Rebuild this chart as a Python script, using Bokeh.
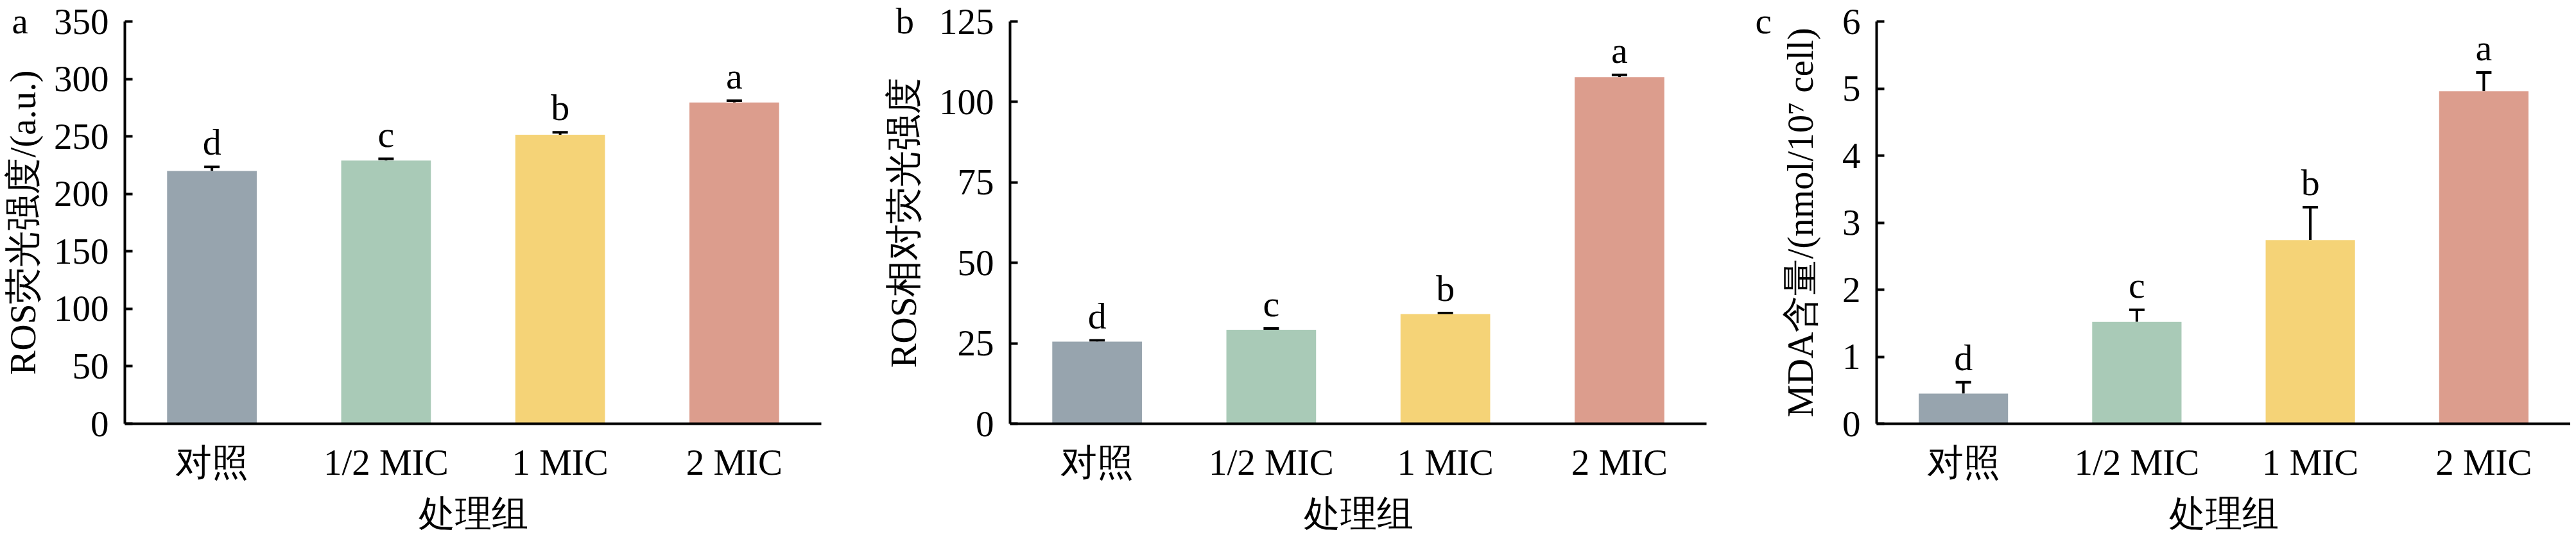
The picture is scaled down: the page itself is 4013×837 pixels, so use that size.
from bokeh.plotting import figure
from bokeh.layouts import row
from bokeh.models import (ColumnDataSource, Whisker, TeeHead, FixedTicker,
                          LabelSet, FactorRange, Range1d)
from bokeh.embed import file_html
from bokeh.resources import INLINE

# ---------------- data ----------------
groups = ["对照", "1/2 MIC", "1 MIC", "2 MIC"]
bar_colors = ["#97A4AE", "#A9CAB7", "#F5D377", "#DC9D8D"]

ros_mean = [220.0, 229.0, 251.5, 279.5]
ros_err = [3.5, 1.5, 2.0, 1.5]
ros_sig = ["d", "c", "b", "a"]

rel_mean = [25.5, 29.2, 34.1, 107.7]
rel_err = [0.4, 0.4, 0.3, 0.7]
rel_sig = ["d", "c", "b", "a"]

mda_mean = [0.45, 1.52, 2.74, 4.96]
mda_err = [0.17, 0.18, 0.49, 0.28]
mda_sig = ["d", "c", "b", "a"]

ros_ticks = [0, 50, 100, 150, 200, 250, 300, 350]
rel_ticks = [0, 25, 50, 75, 100, 125]
mda_ticks = [0, 1, 2, 3, 4, 5, 6]

FONT = "Liberation Serif"
FS = "57px"
TOP = 33
FRAME_H = 627
BOTTOM = 169


def make_panel(tag, ylabel, means, errs, sig, ticks, border_left, frame_w,
               border_right, ylabel_standoff, tag_x):
    tops = [m + e for m, e in zip(means, errs)]
    src = ColumnDataSource(dict(grp=groups, mean=means, top=tops, sig=sig,
                                color=bar_colors))
    p = figure(x_range=FactorRange(*groups, range_padding=0),
               y_range=Range1d(ticks[0], ticks[-1]),
               frame_width=frame_w, frame_height=FRAME_H,
               min_border_left=border_left, min_border_right=border_right,
               min_border_top=TOP, min_border_bottom=BOTTOM,
               output_backend="svg", toolbar_location=None,
               outline_line_color=None, background_fill_color="white",
               border_fill_color="white")
    p.xgrid.visible = False
    p.ygrid.visible = False

    # panel letter as the plot title, pulled up/left so it does not push the frame
    p.title.text = tag
    p.title.align = "left"
    p.title.vertical_align = "top"
    p.title.offset = tag_x
    p.title.standoff = -64
    p.title.text_font = FONT
    p.title.text_font_size = FS
    p.title.text_font_style = "normal"
    p.title.text_color = "black"

    p.vbar(x="grp", top="mean", bottom=0, width=0.515, source=src,
           fill_color="color", line_color=None)

    w = Whisker(base="grp", upper="top", lower="mean", source=src,
                line_color="black", line_width=4,
                upper_head=TeeHead(size=24, line_color="black", line_width=4),
                lower_head=None)
    p.add_layout(w)

    p.add_layout(LabelSet(x="grp", y="top", text="sig", source=src,
                          text_font=FONT, text_font_size="58px",
                          text_align="center", text_baseline="alphabetic",
                          y_offset=19, text_color="black"))

    # y axis
    ya = p.yaxis[0]
    ya.ticker = FixedTicker(ticks=ticks)
    ya.minor_tick_line_color = None
    ya.major_tick_in = 12
    ya.major_tick_out = 0
    ya.major_tick_line_width = 4
    ya.major_tick_line_color = "black"
    ya.axis_line_width = 4
    ya.axis_line_color = "black"
    ya.major_label_text_font = FONT
    ya.major_label_text_font_size = FS
    ya.major_label_text_color = "black"
    ya.major_label_standoff = 25
    ya.axis_label = ylabel
    ya.axis_label_text_font = FONT
    ya.axis_label_text_font_size = FS
    ya.axis_label_text_font_style = "normal"
    ya.axis_label_text_color = "black"
    ya.axis_label_standoff = ylabel_standoff

    # x axis
    xa = p.xaxis[0]
    xa.major_tick_in = 0
    xa.major_tick_out = 0
    xa.major_tick_line_color = None
    xa.minor_tick_line_color = None
    xa.axis_line_width = 4
    xa.axis_line_color = "black"
    xa.major_label_text_font = FONT
    xa.major_label_text_font_size = FS
    xa.major_label_text_color = "black"
    xa.major_label_standoff = 28
    xa.axis_label = "处理组"
    xa.axis_label_text_font = FONT
    xa.axis_label_text_font_size = FS
    xa.axis_label_text_font_style = "normal"
    xa.axis_label_text_color = "black"
    xa.axis_label_standoff = 14
    return p


pa = make_panel("a", "ROS荧光强度/(a.u.)", ros_mean, ros_err, ros_sig, ros_ticks,
                188, 1085, 93, 14, -176)
pb = make_panel("b", "ROS相对荧光强度", rel_mean, rel_err, rel_sig, rel_ticks,
                200, 1085, 65, 21, -178)
pc = make_panel("c", "MDA含量/(nmol/10⁷ cell)", mda_mean, mda_err, mda_sig, mda_ticks,
                200, 1081, 0, 31, -189)

layout = row(pa, pb, pc, spacing=0)

open("out.html", "w").write(file_html(layout, INLINE))
